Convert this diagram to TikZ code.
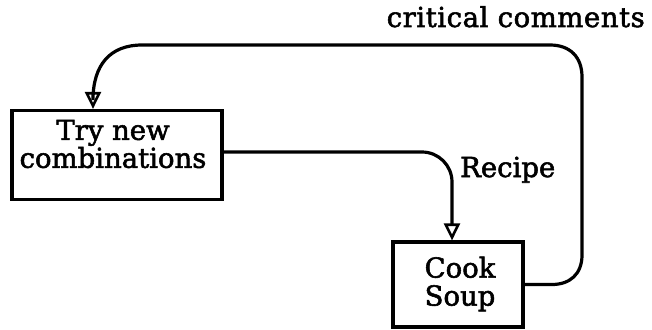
\documentclass[tikz,border=0pt]{standalone}
\usepackage{fontspec}
\setmainfont{DejaVu Serif}[FakeBold=2]
\usetikzlibrary{arrows.meta}
\begin{document}
\begin{tikzpicture}[x=1pt,y=-1pt,
  box/.style={draw,line width=3.2pt,inner sep=0pt,minimum width=#1},
  txt/.style={inner sep=0pt,align=center,font=\fontsize{27.5}{28}\selectfont},
  lbl/.style={inner sep=0pt,font=\fontsize{27.5}{28}\selectfont},
  flow/.style={line width=3.2pt,-{Triangle[open,length=17pt,width=16pt,line width=2.6pt]}}]
\useasboundingbox (0,0) rectangle (652,329);
% process boxes
\node[box=210pt,minimum height=89pt] (try) at (117,155) {};
\node[box=130pt,minimum height=85pt] (cook) at (458,284.5) {};
\node[txt] (trytxt) at (113,144) {Try new\\combinations};
\node[txt] (cooktxt) at (460,284) {Cook\\Soup};
% connector labels
\node[lbl,anchor=base west] (recipe) at (460,177) {Recipe};
\node[lbl,anchor=base east] (crit) at (645,27) {\addfontfeature{LetterSpace=2}critical comments};
% recipe flow
\coordinate (rdown) at (452,0);
\draw[flow,rounded corners=30pt] ([yshift=3pt]try.east) -| (rdown |- cook.north);
% feedback loop
\coordinate (fbin) at (93,0);
\coordinate (fbr) at (552,0);
\draw[flow] (cook.east) -- (fbr |- cook.east) .. controls (570,284.5) and (582,274) .. (582,255)
  -- (582,77) .. controls (582,57) and (570,45) .. (550,45)
  -- (142,45) .. controls (110,45) and (93,65) .. (93,100) -- (fbin |- try.north);
\end{tikzpicture}
\end{document}
